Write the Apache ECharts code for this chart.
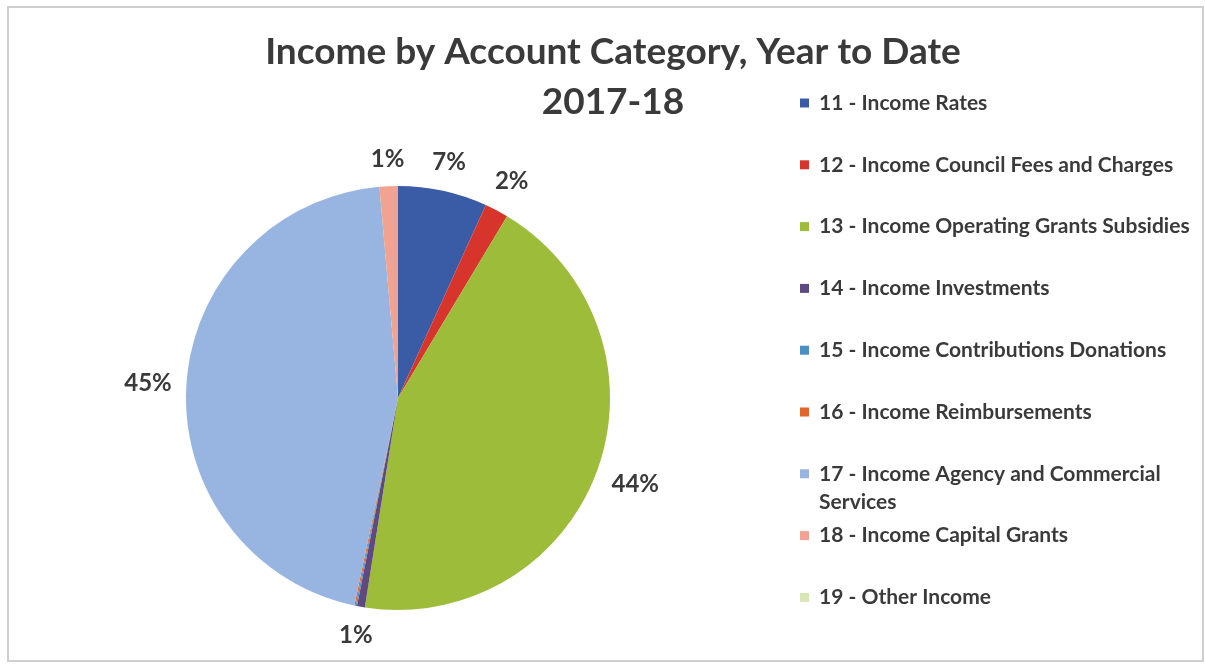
<!DOCTYPE html>
<html>
<head>
<meta charset="utf-8">
<title>Income by Account Category, Year to Date 2017-18</title>
<script src="https://cdn.jsdelivr.net/npm/echarts@6/dist/echarts.min.js"></script>
<style>
  html, body { margin: 0; padding: 0; background: #ffffff; }
  #chart { width: 1205px; height: 666px; }
</style>
</head>
<body>
<div id="chart"></div>
<script>
// Account categories and their year-to-date share of income (%)
const categories = [
  '11 - Income Rates',
  '12 - Income Council Fees and Charges',
  '13 - Income Operating Grants Subsidies',
  '14 - Income Investments',
  '15 - Income Contributions Donations',
  '16 - Income Reimbursements',
  '17 - Income Agency and Commercial Services',
  '18 - Income Capital Grants',
  '19 - Other Income'
];
const incomeShare = [6.8, 1.8, 43.9, 0.6, 0.1, 0.1, 45.3, 1.4, 0.0];
const sliceColors = ['#3a5ba6', '#d7352c', '#9dbd3a', '#5e4a80', '#4a8fc6', '#e2662b', '#98b4e0', '#f2a291', '#d6e7b4'];

const FONT = 'Lato, "Open Sans", sans-serif';
const TEXT = '#3a3a3a';

// pie geometry
const CX = 398, CY = 398, R = 212;

const total = incomeShare.reduce((a, b) => a + b, 0);
const midAngles = [];
let acc = 0;
incomeShare.forEach(v => {
  midAngles.push((acc + v / 2) / total * Math.PI * 2);
  acc += v;
});

// one legend block per entry so the wrapped entry keeps its icon on the first line
const legendFirstY = 103, legendStep = 61.8, legendLine = 28;
const legends = categories.map((name, i) => {
  const wrapped = name.indexOf('Commercial Services') >= 0;
  const iconCenter = legendFirstY + i * legendStep;
  return {
    orient: 'vertical',
    left: 800,
    top: wrapped ? iconCenter - 1.5 * legendLine : iconCenter - legendLine / 2,
    padding: 0,
    itemWidth: 9,
    itemHeight: 9,
    itemGap: 0,
    icon: 'rect',
    selectedMode: false,
    data: [name],
    // a leading blank line keeps the icon level with the first text line
    formatter: n => wrapped ? '\n ' + n.replace(' Services', '\n Services') : ' ' + n,
    textStyle: {
      fontFamily: FONT,
      fontWeight: 'bold',
      fontSize: 21,
      color: TEXT,
      lineHeight: legendLine
    }
  };
});

const chart = echarts.init(document.getElementById('chart'), null, { renderer: 'canvas' });
chart.setOption({
  backgroundColor: '#ffffff',
  animation: false,
  title: {
    text: 'Income by Account Category, Year to Date\n2017-18',
    left: 608,
    top: 22,
    textAlign: 'center',
    textStyle: {
      fontFamily: FONT,
      fontWeight: 'bold',
      fontSize: 37,
      lineHeight: 50,
      color: TEXT
    }
  },
  legend: legends,
  graphic: [{
    type: 'rect',
    shape: { x: 8, y: 7, width: 1195, height: 654 },
    style: { fill: 'none', stroke: '#cfcfcf', lineWidth: 2 },
    silent: true,
    z: -1
  }],
  series: [{
    type: 'pie',
    center: [CX, CY],
    radius: R,
    startAngle: 90,
    clockwise: true,
    percentPrecision: 0,
    avoidLabelOverlap: false,
    itemStyle: { borderWidth: 0 },
    emphasis: { disabled: true },
    data: categories.map((name, i) => ({
      name,
      value: incomeShare[i],
      itemStyle: { color: sliceColors[i] },
      label: { show: incomeShare[i] / total >= 0.005 }
    })),
    label: {
      position: 'outside',
      formatter: '{d}%',
      fontFamily: FONT,
      fontWeight: 'bold',
      fontSize: 24,
      color: TEXT
    },
    labelLine: { show: false },
    labelLayout: function (p) {
      const a = midAngles[p.dataIndex];
      const ux = Math.sin(a), uy = -Math.cos(a);
      const w = p.labelRect.width, h = p.labelRect.height;
      const dist = R + 14 + Math.abs(ux) * w / 2 + Math.abs(uy) * h / 2;
      return {
        x: CX + ux * dist,
        y: CY + uy * dist,
        align: 'center',
        verticalAlign: 'middle'
      };
    }
  }]
});
</script>
</body>
</html>
